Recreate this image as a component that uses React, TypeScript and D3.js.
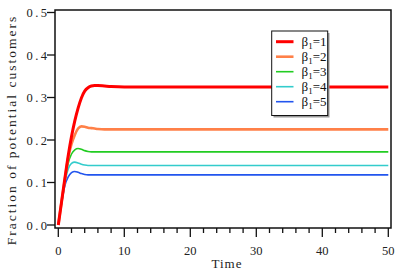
import * as d3 from 'd3'

const width = 415
const height = 273

// frame edges
const frameLeft = 55
const frameRight = 391
const frameTop = 10
const frameBottom = 228

const times = [0, 0.5, 1, 1.5, 2, 2.5, 3, 3.5, 4, 4.5, 5, 5.5, 6, 7, 8, 10, 15, 20, 30, 40, 50]
const beta1 = [0, 0.055, 0.11, 0.163, 0.208, 0.245, 0.275, 0.299, 0.315, 0.323, 0.327, 0.328, 0.328, 0.327, 0.326, 0.325, 0.325, 0.325, 0.325, 0.325, 0.325]
const beta2 = [0, 0.055, 0.108, 0.158, 0.19, 0.212, 0.227, 0.232, 0.231, 0.229, 0.228, 0.227, 0.226, 0.225, 0.225, 0.225, 0.225, 0.225, 0.225, 0.225, 0.225]
const beta3 = [0, 0.055, 0.105, 0.145, 0.167, 0.177, 0.18, 0.178, 0.175, 0.173, 0.172, 0.172, 0.172, 0.172, 0.172, 0.172, 0.172, 0.172, 0.172, 0.172, 0.172]
const beta4 = [0, 0.052, 0.1, 0.132, 0.145, 0.148, 0.146, 0.143, 0.141, 0.14, 0.14, 0.14, 0.14, 0.14, 0.14, 0.14, 0.14, 0.14, 0.14, 0.14, 0.14]
const beta5 = [0, 0.052, 0.093, 0.113, 0.123, 0.126, 0.124, 0.121, 0.119, 0.118, 0.118, 0.118, 0.118, 0.118, 0.118, 0.118, 0.118, 0.118, 0.118, 0.118, 0.118]

const legendValues = ['1', '2', '3', '4', '5']
const xTicks = [0, 10, 20, 30, 40, 50]
const xMinorTicks = d3.range(0, 51, 2)
const yTicks = [0, 0.1, 0.2, 0.3, 0.4, 0.5]

const series = [
  { values: beta1, color: '#ff0000', width: 3 },
  { values: beta2, color: '#ff8048', width: 2.6 },
  { values: beta3, color: '#22cc22', width: 1.6 },
  { values: beta4, color: '#33cccc', width: 1.6 },
  { values: beta5, color: '#2255ee', width: 1.6 },
]

const serif = '"Liberation Serif", "Times New Roman", "DejaVu Serif", serif'

export default function App() {
  const x = d3.scaleLinear([0, 50], [58.3, 388.3])
  const y = d3.scaleLinear([0, 0.5], [225, 12.5])

  const line = d3
    .line<number>()
    .x((_, i) => x(times[i]))
    .y(d => y(d))
    .curve(d3.curveMonotoneX)

  return (
    <svg
      width={width}
      height={height}
      viewBox={`0 0 ${width} ${height}`}
      style={{ position: 'absolute', left: 0, top: 0, background: '#fff', fontFamily: serif }}
    >
      {/* series */}
      {series
        .slice()
        .reverse()
        .map((s, i) => (
          <path
            key={i}
            d={line(s.values) ?? ''}
            fill="none"
            stroke={s.color}
            strokeWidth={s.width}
            strokeLinejoin="round"
          />
        ))}

      {/* frame */}
      <rect
        x={frameLeft}
        y={frameTop}
        width={frameRight - frameLeft}
        height={frameBottom - frameTop}
        fill="none"
        stroke="#111"
        strokeWidth={1.5}
      />

      {/* x axis ticks */}
      {xMinorTicks.map(t => (
        <line
          key={`xm${t}`}
          x1={x(t)}
          x2={x(t)}
          y1={frameBottom}
          y2={frameBottom + (t % 10 === 0 ? 9 : 5)}
          stroke="#111"
          strokeWidth={1.3}
        />
      ))}
      {xTicks.map(t => (
        <text key={`xl${t}`} x={x(t)} y={255} textAnchor="middle" fontSize={12.5} fill="#222">
          {t}
        </text>
      ))}

      {/* y axis ticks */}
      {yTicks.map(t => (
        <g key={`y${t}`}>
          <line x1={frameLeft - 8} x2={frameLeft} y1={y(t)} y2={y(t)} stroke="#111" strokeWidth={1.3} />
          <text x={49.5} y={y(t) + 4.5} textAnchor="end" fontSize={12.5} letterSpacing={2.5} fill="#222">
            {d3.format('.1f')(t)}
          </text>
        </g>
      ))}

      {/* axis titles */}
      <text x={227} y={268} textAnchor="middle" fontSize={13} letterSpacing={1} fill="#222">
        Time
      </text>
      <text
        transform="translate(16,130) rotate(-90)"
        textAnchor="middle"
        fontSize={13.5}
        letterSpacing={2}
        fill="#222"
      >
        Fraction of potential customers
      </text>

      {/* legend */}
      <g>
        <rect x={273.5} y={33} width={56} height={84.5} fill="#999" />
        <rect x={271.7} y={31} width={56} height={84.5} fill="#fff" stroke="#111" strokeWidth={1} />
        {series.map((s, i) => {
          const ly = 41.7 + i * 15
          return (
            <g key={`lg${i}`}>
              <line x1={276} x2={293.5} y1={ly} y2={ly} stroke={s.color} strokeWidth={s.width} />
              <text x={301.5} y={ly + 4} fontSize={13} fill="#111">
                β
                <tspan fontSize={9} dy={3}>
                  1
                </tspan>
                <tspan dy={-3}>={legendValues[i]}</tspan>
              </text>
            </g>
          )
        })}
      </g>
    </svg>
  )
}
